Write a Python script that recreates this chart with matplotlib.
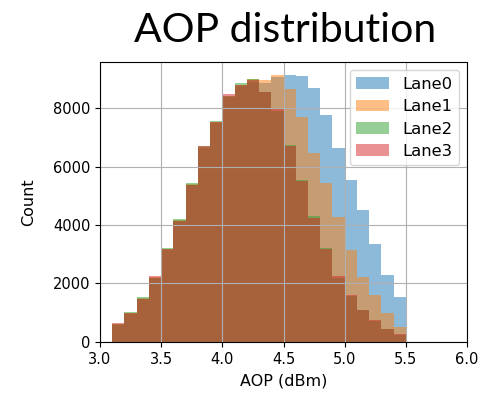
import numpy as np
import matplotlib
matplotlib.use("Agg")
import matplotlib.pyplot as plt

# bin edges of the histogram (dBm)
bin_edges = [3.1, 3.2, 3.3, 3.4, 3.5, 3.6, 3.7, 3.8, 3.9, 4.0, 4.1, 4.2, 4.3,
             4.4, 4.5, 4.6, 4.7, 4.8, 4.9, 5.0, 5.1, 5.2, 5.3, 5.4, 5.5]

# counts per bin
lane0 = [590, 970, 1480, 2200, 3150, 4130, 5360, 6650, 7500, 8380, 8750, 8900,
         8850, 9050, 9118, 9100, 8684, 7750, 6632, 5538, 4513, 3350, 2290, 1550]
lane1 = [610, 990, 1500, 2220, 3170, 4160, 5390, 6680, 7520, 8420, 8800, 8980,
         8950, 9118, 8650, 7700, 6460, 5430, 4284, 3145, 2232, 1600, 1000, 520]
lane2 = [600, 1015, 1530, 2200, 3200, 4190, 5420, 6700, 7540, 8400, 8855, 9003,
         8560, 7900, 6735, 5540, 4300, 3220, 2200, 1580, 1080, 720, 430, 250]
lane3 = [640, 980, 1480, 2256, 3180, 4150, 5380, 6690, 7530, 8490, 8800, 8950,
         8550, 7950, 6700, 5500, 4250, 3180, 2250, 1600, 1100, 740, 450, 260]

lanes = {"Lane0": lane0, "Lane1": lane1, "Lane2": lane2, "Lane3": lane3}

fig = plt.figure(figsize=(4.8, 3.95), dpi=100)
ax = fig.add_axes([0.2083, 0.1342, 0.7647, 0.7088])

bin_lefts = bin_edges[:-1]
for name, counts in lanes.items():
    ax.hist(bin_lefts, bins=bin_edges, weights=counts, alpha=0.5, label=name)

ax.set_xlim(3.0, 6.0)
ax.set_ylim(0, 9573)
ax.set_xticks([3.0, 3.5, 4.0, 4.5, 5.0, 5.5, 6.0])
ax.set_yticks([0, 2000, 4000, 6000, 8000])
ax.tick_params(labelsize=10.5)
ax.grid(True)
ax.set_xlabel("AOP (dBm)", fontsize=11.5, labelpad=5)
ax.set_ylabel("Count", fontsize=11.5, labelpad=12)
ax.legend(loc="upper right", fontsize=11.8, labelspacing=0.45)

# title was typed on top of the chart in a slide font
fig.text(0.594, 0.893, "AOP distribution", ha="center", va="baseline",
         fontsize=29.5, family="Lato")

fig.savefig("out.png", dpi=100)
